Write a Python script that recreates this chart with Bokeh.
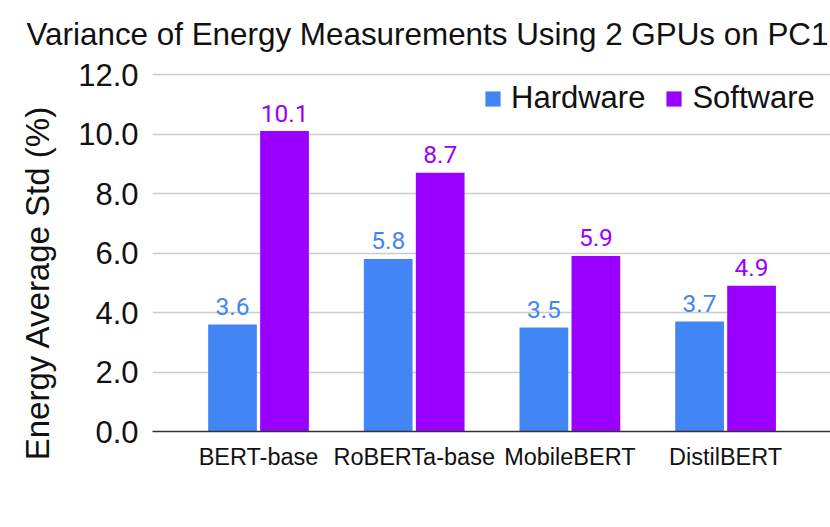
import numpy as np
from bokeh.plotting import figure
from bokeh.models import (Range1d, FixedTicker, NumeralTickFormatter,
                          ColumnDataSource, Legend, LegendItem)
from bokeh.transform import dodge
from bokeh.core.properties import value
from bokeh.embed import file_html
from bokeh.resources import INLINE

# ---- data ----
chart_title = "Variance of Energy Measurements Using 2 GPUs on PC1"
y_title = "Energy Average Std (%)"
models = ["BERT-base", "RoBERTa-base", "MobileBERT", "DistilBERT"]
hardware = [3.6, 5.8, 3.5, 3.7]
software = [10.1, 8.7, 5.9, 4.9]
y_ticks = [0, 2, 4, 6, 8, 10, 12]
series_names = ["Hardware", "Software"]
colors = ["#4285F4", "#9900FF"]

idx = list(range(len(models)))
src = ColumnDataSource(dict(
    x=idx, hw=hardware, sw=software,
    hw_lbl=[f"{v:.1f}" for v in hardware],
    sw_lbl=[f"{v:.1f}" for v in software],
))

FONT = "Liberation Sans"

# frame: left 152, right 830, top 60, bottom 431 (gridline 12 lands at 74)
x0, x1 = -0.681, 3.674
y_top = y_ticks[-1] * (431 - 60) / (431 - 74)
p = figure(width=830, height=527, output_backend="svg", toolbar_location=None,
           x_range=Range1d(x0, x1), y_range=Range1d(0, y_top),
           min_border_left=152, min_border_right=0, min_border_top=60,
           min_border_bottom=96)
p.outline_line_color = None
p.background_fill_color = "white"
p.border_fill_color = "white"

off = 0.167
bw = 0.313
r1 = p.vbar(x=dodge("x", -off), top="hw", width=bw, source=src,
            fill_color=colors[0], line_color=None)
r2 = p.vbar(x=dodge("x", off), top="sw", width=bw, source=src,
            fill_color=colors[1], line_color=None)

for xf, yf, tf, c in [(-off, "hw", "hw_lbl", colors[0]), (off, "sw", "sw_lbl", colors[1])]:
    p.text(x=dodge("x", xf), y=yf, text=tf, source=src,
           text_align="center", text_baseline="alphabetic", y_offset=-18,
           text_font=value("Roboto"), text_font_size=value("24.5px"),
           text_color=c)

# title
p.title.text = chart_title
p.title.align = "left"
p.title.offset = -126
p.title.text_font = FONT
p.title.text_font_size = "31.4px"
p.title.text_font_style = "normal"
p.title.text_color = "#111111"
p.title.standoff = 18

# axes
p.xaxis.ticker = FixedTicker(ticks=idx)
p.xaxis.major_label_overrides = {i: m for i, m in enumerate(models)}
p.xaxis.major_tick_line_color = None
p.xaxis.minor_tick_line_color = None
p.xaxis.axis_line_color = "#333333"
p.xaxis.axis_line_width = 1.5
p.xaxis.major_label_text_font = FONT
p.xaxis.major_label_text_font_size = "23.5px"
p.xaxis.major_label_text_color = "#111111"
p.xaxis.major_label_standoff = 6

p.yaxis.ticker = FixedTicker(ticks=y_ticks)
p.yaxis.formatter = NumeralTickFormatter(format="0.0")
p.yaxis.axis_line_color = None
p.yaxis.major_tick_line_color = None
p.yaxis.minor_tick_line_color = None
p.yaxis.major_tick_out = 0
p.yaxis.major_label_standoff = 14
p.yaxis.major_label_text_font = FONT
p.yaxis.major_label_text_font_size = "31px"
p.yaxis.major_label_text_color = "#111111"
p.yaxis.axis_label = y_title + "\u00a0" * 8
p.yaxis.axis_label_text_font = FONT
p.yaxis.axis_label_text_font_size = "33px"
p.yaxis.axis_label_text_font_style = "normal"
p.yaxis.axis_label_text_color = "#111111"
p.yaxis.axis_label_standoff = 19

p.xgrid.visible = False
p.ygrid.ticker = FixedTicker(ticks=y_ticks)
p.ygrid.grid_line_color = "#cccccc"
p.ygrid.grid_line_width = 1.5

legend = Legend(items=[LegendItem(label=series_names[0], renderers=[r1]),
                       LegendItem(label=series_names[1], renderers=[r2])],
                orientation="horizontal", location=(331, 315),
                glyph_width=19, glyph_height=19, label_standoff=9, spacing=19,
                padding=0, margin=0, border_line_color=None,
                background_fill_alpha=0,
                label_text_font=FONT, label_text_font_size="31px",
                label_text_color="#111111")
p.add_layout(legend)

open("out.html", "w").write(file_html(p, INLINE))
